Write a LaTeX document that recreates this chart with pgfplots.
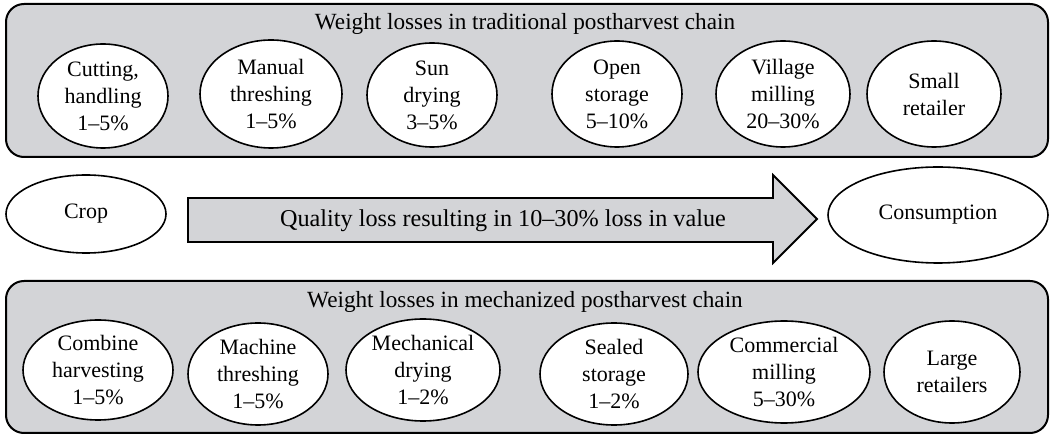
\documentclass[border=0pt]{standalone}
\usepackage{fontspec}
\setmainfont{Liberation Serif}
\usepackage{pgfplots}
\pgfplotsset{compat=1.18}
\usetikzlibrary{shapes.geometric}
\definecolor{boxgray}{RGB}{211,212,215}
\begin{document}
\begin{tikzpicture}
\begin{axis}[hide axis, scale only axis, width=528pt, height=219pt,
  xmin=0, xmax=1056, ymin=0, ymax=438, y dir=reverse, clip=false]
\path (axis cs:0,0) rectangle (axis cs:1056,438);
\tikzset{ell/.style={draw=black, line width=0.8pt, fill=white, ellipse, inner sep=0pt, align=center,
  font=\fontsize{11}{13.5}\selectfont}}
% top box
\draw[line width=1pt, rounded corners=9pt, fill=boxgray] (axis cs:6,4) rectangle (axis cs:1048,157);
\node[font=\fontsize{11.6}{13.5}\selectfont] at (axis cs:525,24) {Weight losses in traditional postharvest chain};
\node[ell, minimum width=65pt, minimum height=52pt] at (axis cs:103,96) {Cutting,\\handling\\1--5\%};
\node[ell, minimum width=71pt, minimum height=54pt] at (axis cs:271,94) {Manual\\threshing\\1--5\%};
\node[ell, minimum width=65pt, minimum height=52pt] at (axis cs:432,95) {Sun\\drying\\3--5\%};
\node[ell, minimum width=65pt, minimum height=53pt] at (axis cs:617,94) {Open\\storage\\5--10\%};
\node[ell, minimum width=67pt, minimum height=53pt] at (axis cs:783,94) {Village\\milling\\20--30\%};
\node[ell, minimum width=67pt, minimum height=53pt] at (axis cs:934,94) {Small\\retailer};
% middle
\node[ell, minimum width=80pt, minimum height=39pt] at (axis cs:86,214) {Crop};
\draw[line width=0.9pt, fill=boxgray] (axis cs:188,198) -- (axis cs:773,198) -- (axis cs:773,175) -- (axis cs:817,219)
  -- (axis cs:773,263) -- (axis cs:773,242) -- (axis cs:188,242) -- cycle;
\node[font=\fontsize{12.1}{13.5}\selectfont] at (axis cs:503,221) {Quality loss resulting in 10--30\% loss in value};
\node[ell, minimum width=110pt, minimum height=48pt] at (axis cs:938,215) {Consumption};
% bottom box
\draw[line width=1pt, rounded corners=9pt, fill=boxgray] (axis cs:6,281) rectangle (axis cs:1048,433);
\node[font=\fontsize{11.6}{13.5}\selectfont] at (axis cs:525,302) {Weight losses in mechanized postharvest chain};
\node[ell, minimum width=75pt, minimum height=50pt] at (axis cs:98,370) {Combine\\harvesting\\1--5\%};
\node[ell, minimum width=70pt, minimum height=51pt] at (axis cs:258,374) {Machine\\threshing\\1--5\%};
\node[ell, minimum width=77pt, minimum height=51pt] at (axis cs:423,370) {Mechanical\\drying\\1--2\%};
\node[ell, minimum width=74pt, minimum height=51pt] at (axis cs:614,374) {Sealed\\storage\\1--2\%};
\node[ell, minimum width=86pt, minimum height=51pt] at (axis cs:784,372) {Commercial\\milling\\5--30\%};
\node[ell, minimum width=68pt, minimum height=51pt] at (axis cs:952,372) {Large\\retailers};
\end{axis}
\end{tikzpicture}
\end{document}
